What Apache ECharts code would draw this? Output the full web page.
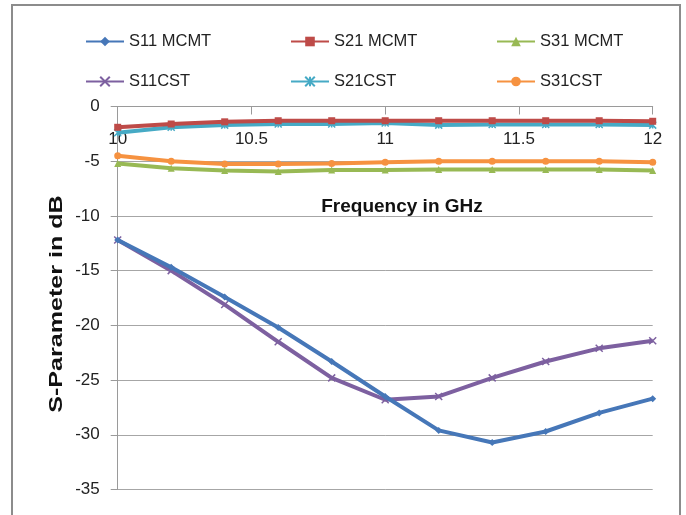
<!DOCTYPE html>
<html>
<head>
<meta charset="utf-8">
<script src="https://cdn.jsdelivr.net/npm/echarts@6/dist/echarts.min.js"></script>
<style>html,body{margin:0;padding:0;background:#fff;}#c{width:686px;height:515px;}</style>
</head>
<body>
<div id="c"></div>
<script>
var freq = [10, 10.2, 10.4, 10.6, 10.8, 11.0, 11.2, 11.4, 11.6, 11.8, 12.0];
var s11MCMT = [-12.2, -14.7, -17.4, -20.2, -23.3, -26.5, -29.6, -30.7, -29.7, -28.0, -26.7];
var s21MCMT = [-1.9, -1.6, -1.4, -1.3, -1.3, -1.3, -1.3, -1.3, -1.3, -1.3, -1.35];
var s31MCMT = [-5.2, -5.65, -5.85, -5.95, -5.8, -5.8, -5.75, -5.75, -5.75, -5.75, -5.85];
var s11CST = [-12.2, -15.0, -18.1, -21.5, -24.8, -26.8, -26.5, -24.8, -23.3, -22.1, -21.4];
var s21CST = [-2.4, -1.9, -1.7, -1.6, -1.6, -1.5, -1.7, -1.65, -1.65, -1.65, -1.7];
var s31CST = [-4.5, -5.0, -5.25, -5.25, -5.2, -5.1, -5.0, -5.0, -5.0, -5.0, -5.1];
var seriesNames = ['S11 MCMT', 'S21 MCMT', 'S31 MCMT', 'S11CST', 'S21CST', 'S31CST'];
var xTitle = 'Frequency in GHz';
var yTitle = 'S-Parameter in dB';

var FONT = "'Liberation Sans', 'Noto Sans', sans-serif";
var colors = ['#4677B8', '#BE4B48', '#98B954', '#7D60A0', '#46AAC5', '#F69240'];
var symbols = ['diamond', 'rect', 'triangle',
  'path://M0,0L10,10M10,0L0,10',
  'path://M0,0L10,10M10,0L0,10M5,0L5,10',
  'circle'];
var allData = [s11MCMT, s21MCMT, s31MCMT, s11CST, s21CST, s31CST];

function pairs(arr) { return freq.map(function (f, i) { return [f, arr[i]]; }); }

var series = allData.map(function (d, i) {
  var pathSym = symbols[i].indexOf('path://') === 0;
  return {
    name: seriesNames[i],
    type: 'line',
    data: pairs(d),
    symbol: symbols[i],
    symbolSize: 7,
    showAllSymbol: true,
    lineStyle: { color: colors[i], width: 4 },
    itemStyle: { color: colors[i], borderColor: colors[i], borderWidth: pathSym ? 1.5 : 0 },
    emphasis: { disabled: true },
    animation: false,
    z: 10 - i
  };
});

var legendPos = [[85, 33], [290, 33], [496, 33], [85, 73], [290, 73], [496, 73]];
var legends = seriesNames.map(function (n, i) {
  return {
    data: [n],
    left: legendPos[i][0],
    top: legendPos[i][1],
    itemWidth: 38,
    itemHeight: 12,
    padding: 0,
    selectedMode: false,
    textStyle: { fontFamily: FONT, fontSize: 16.5, color: '#222' }
  };
});

var chart = echarts.init(document.getElementById('c'), null, { renderer: 'canvas' });
chart.setOption({
  backgroundColor: '#fff',
  animation: false,
  color: colors,
  legend: legends,
  grid: { left: 117.7, right: 33.3, top: 106.5, bottom: 25.5, containLabel: false },
  xAxis: {
    type: 'value', min: 10, max: 12, interval: 0.5, position: 'top',
    axisLine: { onZero: false, lineStyle: { color: '#9a9a9a', width: 1 } },
    axisTick: { show: true, inside: true, length: 8, lineStyle: { color: '#9a9a9a' } },
    axisLabel: { inside: true, margin: 24, fontFamily: FONT, fontSize: 17, color: '#222',
      formatter: function (v) { return String(v); } },
    splitLine: { show: false }
  },
  yAxis: {
    type: 'value', min: -35, max: 0, interval: 5,
    axisLine: { show: true, lineStyle: { color: '#9a9a9a', width: 1 } },
    axisTick: { show: true, inside: false, length: 7, lineStyle: { color: '#9a9a9a' } },
    axisLabel: { margin: 18, fontFamily: FONT, fontSize: 17, color: '#222' },
    splitLine: { show: true, lineStyle: { color: '#a6a6a6', width: 1 } }
  },
  graphic: [
    { type: 'rect', shape: { x: 12, y: 5, width: 668, height: 530 },
      style: { fill: 'none', stroke: '#8c8c8c', lineWidth: 2 }, silent: true, z: -1 },
    { type: 'text', x: 402, y: 207,
      style: { text: xTitle, fontFamily: FONT, fontWeight: 'bold', fontSize: 19, fill: '#111',
        textAlign: 'center', textVerticalAlign: 'middle' }, z: 20 },
    { type: 'text', x: 57, y: 304, rotation: Math.PI / 2, scaleX: 1.32,
      style: { text: yTitle, fontFamily: FONT, fontWeight: 'bold', fontSize: 19, fill: '#111',
        textAlign: 'center', textVerticalAlign: 'middle' }, z: 20 }
  ],
  series: series
});
</script>
</body>
</html>
